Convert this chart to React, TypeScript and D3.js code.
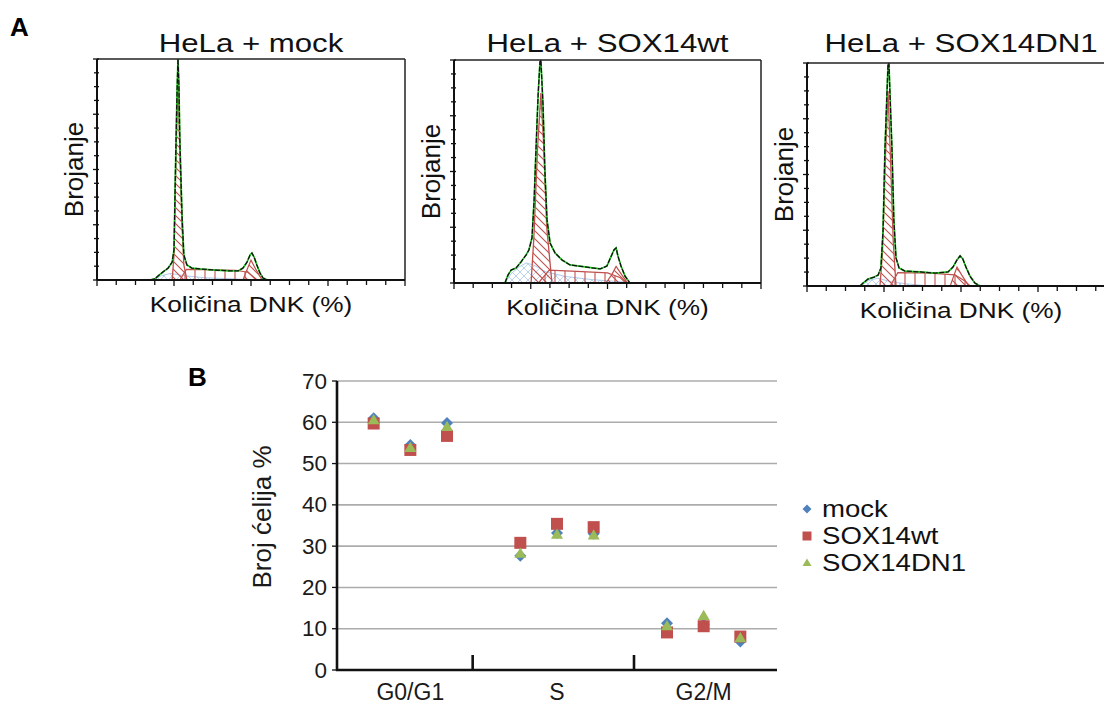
import React from 'react';
import * as d3 from 'd3';

type P = [number, number];

// ---------- Panel A data ----------
const panelTitles = ['HeLa + mock', 'HeLa + SOX14wt', 'HeLa + SOX14DN1'];
const yAxisTitleA = 'Brojanje';
const xAxisTitleA = 'Količina DNK (%)';

// raw histograms (x: DNA content %, y: relative count %)
const raw1: P[] = [[17.2,0],[18.8,0.5],[19.8,1.8],[21.4,3.6],[23.1,5.4],[24.4,8.1],[25.0,13.6],[25.6,58.8],[26.0,86],[26.3,100],[26.6,87.8],[26.9,63.3],[27.6,29.4],[28.2,11.3],[29.2,6.8],[30.8,5.4],[33.4,5.0],[38.3,4.5],[43.2,4.1],[45.8,4.1],[47.4,5.4],[48.7,8.1],[49.7,11.3],[50.3,12.2],[51.0,10.4],[51.9,6.8],[52.9,3.2],[53.9,0.9],[55.5,0]];
const raw2: P[] = [[16.6,0],[17.6,3.6],[18.6,5.8],[20.2,6.7],[21.8,9.4],[23.5,12.6],[24.4,14.8],[25.4,20.2],[26.1,37.2],[26.7,59.6],[27.4,84.3],[28.0,99.1],[28.3,100],[29.0,79.8],[29.6,50.7],[30.3,28.3],[31.3,17.9],[32.9,13.5],[35.2,10.3],[37.8,8.1],[42.7,7.2],[47.6,6.3],[49.8,7.6],[51.1,11.7],[52.1,14.8],[52.8,15.7],[53.4,12.1],[54.4,7.6],[55.7,3.1],[57.3,0]];
const raw3: P[] = [[17.2,0],[18.2,1.3],[19.8,3.1],[21.8,4.0],[23.1,4.9],[24.0,8.1],[24.7,25.1],[25.3,61],[26.0,87.9],[26.3,99.1],[26.6,100],[26.9,87.9],[27.6,61],[28.2,29.6],[28.9,12.6],[29.9,8.1],[31.8,6.7],[36.7,6.3],[41.6,5.8],[45.8,6.3],[47.4,8.5],[48.7,11.7],[49.7,13.5],[50.6,12.1],[51.6,8.5],[52.9,4.5],[54.5,1.3],[56.2,0]];

// fitted G0/G1 peaks
const g1Fit1: P[] = [[24.4,0],[25.0,11.3],[25.6,54.3],[26.3,90],[26.9,58.8],[27.6,24.9],[28.2,6.8],[29.2,0]];
const g1Fit2: P[] = [[25.1,0],[26.0,20],[27.2,60],[28.3,85.2],[29.2,62],[30.2,25],[31.9,0]];
const g1Fit3: P[] = [[23.7,0],[24.5,15],[25.4,55],[26.3,87.4],[27.1,58],[28.0,20],[28.9,0]];

// fitted S phase
const sFit1: P[] = [[26.9,0],[29.0,4.8],[35,4.7],[45,4.4],[49,3.5],[52,0]];
const sFit2: P[] = [[27.5,0],[31,5.8],[40,5.2],[50,4.5],[54,2.5],[56,0]];
const sFit3: P[] = [[27,0],[29.5,6],[40,5.8],[48,5],[51,2.5],[53,0]];

// fitted G2/M peaks
const g2Fit1: P[] = [[47.4,0],[48.5,4],[50,9],[51.5,5],[53.6,0]];
const g2Fit2: P[] = [[49.5,0],[51.5,4],[52.8,7.4],[54.5,4],[56.5,0]];
const g2Fit3: P[] = [[46.5,0],[47.5,4],[48.7,8.5],[50.2,5],[52.5,0]];

// debris
const debris1: P[] = [[18,0],[21,2],[24,3],[28,2],[35,1],[45,0.5],[50,0]];
const debris2: P[] = [[16.6,0],[18.5,4],[21,7],[23.5,9],[26,8],[30,5],[36,3],[45,1.5],[55,0.5],[58,0]];
const debris3: P[] = [[17.5,0],[20,2.5],[23,3.5],[27,2],[32,1],[40,0]];

const histTicks = d3.range(0, 100.01, 6.25);

// ---------- Panel B data ----------
const phases = ['G0/G1', 'S', 'G2/M'];
const phaseCenters = [2, 6, 10];
const phaseDividers = [3.7, 8.1];
const seriesNames = ['mock', 'SOX14wt', 'SOX14DN1'];
const xPositions = [1, 2, 3, 5, 6, 7, 9, 10, 11];
const mockVals = [61.0, 54.5, 59.8, 27.7, 33.2, 33.0, 11.3, 11.0, 6.9];
const wtVals = [59.7, 53.3, 56.7, 30.8, 35.4, 34.6, 9.1, 10.6, 8.1];
const dn1Vals = [60.5, 53.8, 58.9, 28.2, 32.8, 32.6, 10.6, 13.1, 7.7];
const yTicksB = [0, 10, 20, 30, 40, 50, 60, 70];
const yTitleB = 'Broj ćelija %';

const FONT = 'Liberation Sans, Arial, Helvetica, sans-serif';
const BLUE = '#4f81bd';
const RED = '#c0504d';
const GREEN = '#9bbb59';

const frames = [
  { x0: 97, x1: 405, y0: 59, y1: 280 },
  { x0: 454, x1: 761, y0: 60, y1: 283 },
  { x0: 807, x1: 1115, y0: 63, y1: 286 },
];

const panels = [
  { raw: raw1, g1: g1Fit1, s: sFit1, g2: g2Fit1, debris: debris1 },
  { raw: raw2, g1: g1Fit2, s: sFit2, g2: g2Fit2, debris: debris2 },
  { raw: raw3, g1: g1Fit3, s: sFit3, g2: g2Fit3, debris: debris3 },
];

function Histogram({ idx }: { idx: number }) {
  const f = frames[idx];
  const p = panels[idx];
  const x = d3.scaleLinear().domain([0, 100]).range([f.x0, f.x1]);
  const y = d3.scaleLinear().domain([0, 100]).range([f.y1, f.y0]);
  const line = d3.line<P>().x(d => x(d[0])).y(d => y(d[1]));
  const poly = (pts: P[]) => (line(pts) || '') + 'Z';
  const cx = (f.x0 + f.x1) / 2;
  return (
    <g>
      <text transform={`translate(${cx},52) scale(1.2,1)`} textAnchor="middle" fontFamily={FONT} fontSize={26} fill="#111">{panelTitles[idx]}</text>
      <text transform={`translate(${f.x0 - 23},${(f.y0 + f.y1) / 2}) rotate(-90)`} textAnchor="middle" dominantBaseline="central" fontFamily={FONT} fontSize={26} fill="#111">{yAxisTitleA}</text>
      <text transform={`translate(${cx},${f.y1 + 32}) scale(1.22,1)`} textAnchor="middle" fontFamily={FONT} fontSize={21.5} fill="#111">{xAxisTitleA}</text>
      <path d={poly(p.debris)} fill="url(#crossBlue)" stroke="#9cc0e6" strokeWidth={0.8} />
      <path d={poly(p.s)} fill="url(#vertRed)" stroke={RED} strokeWidth={1.2} />
      <path d={poly(p.g2)} fill="url(#diagRed)" stroke={RED} strokeWidth={1.2} />
      <path d={poly(p.g1)} fill="url(#diagRed)" stroke={RED} strokeWidth={1.3} />
      <path d={line(p.raw) || ''} fill="none" stroke="#22cc22" strokeWidth={1.7} />
      <path d={line(p.raw) || ''} fill="none" stroke="#111" strokeWidth={1.3} strokeDasharray="5 1.5" />
      {/* frame */}
      <line x1={f.x0} x2={f.x1} y1={f.y0} y2={f.y0} stroke="#222" strokeWidth={1.5} />
      <line x1={f.x1} x2={f.x1} y1={f.y0} y2={f.y1} stroke="#222" strokeWidth={1.5} />
      <line x1={f.x0} x2={f.x0} y1={f.y0} y2={f.y1} stroke="#111" strokeWidth={2} />
      <line x1={f.x0} x2={f.x1} y1={f.y1} y2={f.y1} stroke="#111" strokeWidth={2} />
      {histTicks.map((t, i) => (
        <line key={'yt' + i} x1={f.x0 - (i % 4 === 0 ? 4 : 3)} x2={f.x0 + 2} y1={y(t)} y2={y(t)} stroke="#111" strokeWidth={1.3} />
      ))}
      {histTicks.map((t, i) => (
        <line key={'xt' + i} x1={x(t)} x2={x(t)} y1={f.y1} y2={f.y1 + (i % 4 === 0 ? 6 : 5)} stroke="#111" strokeWidth={1.3} />
      ))}
    </g>
  );
}

function marker(kind: number, size: number) {
  if (kind === 0) {
    return `M0,${-size / 2}L${size / 2},0L0,${size / 2}L${-size / 2},0Z`;
  }
  if (kind === 1) {
    return `M${-size / 2},${-size / 2}H${size / 2}V${size / 2}H${-size / 2}Z`;
  }
  const h = size * 0.85;
  return `M0,${-h * 0.6}L${size / 2},${h * 0.4}L${-size / 2},${h * 0.4}Z`;
}

function Scatter() {
  const x = d3.scaleLinear().domain([0, 12]).range([337, 777]);
  const y = d3.scaleLinear().domain([0, 70]).range([670, 381]);
  const colors = [BLUE, RED, GREEN];
  const vals = [mockVals, wtVals, dn1Vals];
  return (
    <g fontFamily={FONT}>
      <text x={188} y={386} fontSize={26} fontWeight="bold" fill="#000">B</text>
      {yTicksB.filter(t => t > 0).map(t => (
        <line key={'g' + t} x1={x(0)} x2={x(12)} y1={y(t)} y2={y(t)} stroke="#acacac" strokeWidth={1.6} />
      ))}
      {yTicksB.map(t => (
        <g key={'t' + t}>
          <line x1={x(0) - 5} x2={x(0)} y1={y(t)} y2={y(t)} stroke="#111" strokeWidth={1.3} />
          <text x={327} y={y(t)} textAnchor="end" dominantBaseline="central" fontSize={22.5} fill="#1a1a1a">{t}</text>
        </g>
      ))}
      <line x1={x(0)} x2={x(0)} y1={y(70)} y2={y(0) + 1} stroke="#111" strokeWidth={2.6} />
      <line x1={x(0) - 1} x2={x(12)} y1={y(0)} y2={y(0)} stroke="#111" strokeWidth={2.6} />
      {phaseDividers.map(d => (
        <line key={'d' + d} x1={x(d)} x2={x(d)} y1={y(0)} y2={y(0) - 15} stroke="#111" strokeWidth={2.6} />
      ))}
      {phases.map((p, i) => (
        <text key={p} x={x(phaseCenters[i])} y={700} textAnchor="middle" fontSize={23} fill="#1a1a1a">{p}</text>
      ))}
      <text transform={`translate(262,517) rotate(-90)`} textAnchor="middle" dominantBaseline="central" fontSize={26} fill="#1a1a1a">{yTitleB}</text>
      {vals.map((arr, si) => (
        <g key={'s' + si}>
          {arr.map((v, i) => (
            <path key={i} d={marker(si, 12)} transform={`translate(${x(xPositions[i])},${y(v)})`} fill={colors[si]} />
          ))}
        </g>
      ))}
      {seriesNames.map((n, i) => (
        <g key={n} transform={`translate(807,${509 + i * 27})`}>
          <path d={marker(i, 9)} fill={colors[i]} />
          <text transform="translate(15,0) scale(1.2,1)" dominantBaseline="central" fontSize={23} fill="#111">{n}</text>
        </g>
      ))}
    </g>
  );
}

export default function App() {
  return (
    <svg width={1104} height={704} style={{ position: 'absolute', left: 0, top: 0, background: '#fff' }}>
      <defs>
        <pattern id="diagRed" patternUnits="userSpaceOnUse" width={8} height={8}>
          <path d="M0,0L8,8M-2,6L2,10M6,-2L10,2" stroke={RED} strokeWidth={1.1} />
        </pattern>
        <pattern id="vertRed" patternUnits="userSpaceOnUse" width={10} height={10}>
          <path d="M5,0V10" stroke={RED} strokeWidth={1.1} />
        </pattern>
        <pattern id="crossBlue" patternUnits="userSpaceOnUse" width={8} height={8}>
          <path d="M0,0L8,8M8,0L0,8" stroke="#a9c8ea" strokeWidth={0.8} />
        </pattern>
      </defs>
      <rect x={0} y={0} width={1104} height={704} fill="#fff" />
      <text x={10} y={36} fontFamily={FONT} fontSize={26} fontWeight="bold" fill="#000">A</text>
      {[0, 1, 2].map(i => <Histogram key={i} idx={i} />)}
      <Scatter />
    </svg>
  );
}
